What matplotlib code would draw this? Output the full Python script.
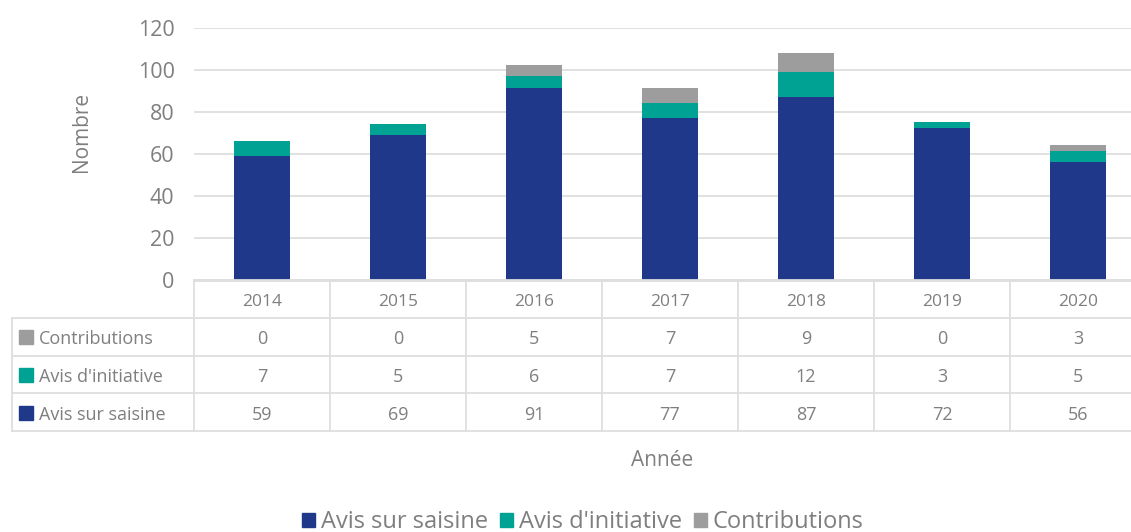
import matplotlib.pyplot as plt
from matplotlib.patches import Patch
import numpy as np

plt.rcParams['font.family'] = ['Open Sans', 'DejaVu Sans']

annees = ['2014', '2015', '2016', '2017', '2018', '2019', '2020']
avis_saisine = [59, 69, 91, 77, 87, 72, 56]
avis_initiative = [7, 5, 6, 7, 12, 3, 5]
contributions = [0, 0, 5, 7, 9, 0, 3]

series = ['Avis sur saisine', "Avis d'initiative", 'Contributions']
couleurs = ['#1f3889', '#00a393', '#9d9d9d']
gris = '#7f7f7f'
trait = '#dedede'

fig = plt.figure(figsize=(11.31, 5.32), dpi=100)
# axes a little wider than the figure: the last column is cut in the reference
ax = fig.add_axes([194 / 1131, (532 - 279.5) / 532, 952 / 1131, 252 / 532])

x = np.arange(len(annees))
w = 0.405
ax.bar(x, avis_saisine, w, color=couleurs[0], zorder=3)
ax.bar(x, avis_initiative, w, bottom=avis_saisine, color=couleurs[1], zorder=3)
bas = np.array(avis_saisine) + np.array(avis_initiative)
ax.bar(x, contributions, w, bottom=bas, color=couleurs[2], zorder=3)

ax.set_xlim(-0.5, 6.5)
ax.set_ylim(0, 120)
ax.set_yticks(range(0, 121, 20))
ax.set_xticks([])
ax.tick_params(axis='y', length=0, pad=14, labelsize=15.5, labelcolor=gris)
ax.grid(axis='y', color=trait, lw=1.3, zorder=0)
for s in ax.spines.values():
    s.set_visible(False)
ax.axhline(0, color=trait, lw=2, zorder=4, clip_on=False)

ax.set_ylabel('Nombre', fontsize=15, color=gris)
ax.yaxis.set_label_coords(-102 / 952, (279.5 - 132) / 252)

# data table under the chart
tr = ax.get_xaxis_transform()
h = 38 / 252
dy = 3 / 252  # text of Open Sans sits a bit high
gauche = -0.5 - 182 / 136
for i in range(1, 5):
    ax.plot([gauche, 6.5], [-i * h, -i * h], color=trait, lw=1.3,
            transform=tr, clip_on=False)
ax.plot([gauche, gauche], [-h, -4 * h], color=trait, lw=1.3, transform=tr, clip_on=False)
for xv in np.arange(-0.5, 6.6, 1):
    ax.plot([xv, xv], [0, -4 * h], color=trait, lw=1.3, transform=tr, clip_on=False)

for i, a in enumerate(annees):
    ax.text(i, -0.5 * h - dy, a, ha='center', va='center', fontsize=12.5, color=gris,
            transform=tr)

lignes = [('Contributions', contributions, couleurs[2]),
          ("Avis d'initiative", avis_initiative, couleurs[1]),
          ('Avis sur saisine', avis_saisine, couleurs[0])]
for r, (nom, vals, c) in enumerate(lignes):
    yc = -(r + 1.5) * h
    ax.plot([-0.5 - 168 / 136], [yc], marker='s', ms=10, color=c,
            transform=tr, clip_on=False)
    ax.text(-0.5 - 155 / 136, yc - dy, nom, ha='left', va='center', fontsize=13,
            color=gris, transform=tr)
    for i, v in enumerate(vals):
        ax.text(i, yc - dy, str(v), ha='center', va='center', fontsize=13,
                color=gris, transform=tr)

fig.text(662 / 1131, 1 - 461 / 532, 'Année', ha='center', va='center',
         fontsize=15, color=gris)

handles = [Patch(color=c, label=s) for s, c in zip(series, couleurs)]
leg = fig.legend(handles=handles, loc='center', bbox_to_anchor=(583 / 1131, 1 - 522 / 532),
                 ncol=3, frameon=False, fontsize=17, handlelength=0.55,
                 handleheight=0.55, handletextpad=0.25, columnspacing=0.5)
for t in leg.get_texts():
    t.set_color(gris)

fig.savefig('out.png', dpi=100)
